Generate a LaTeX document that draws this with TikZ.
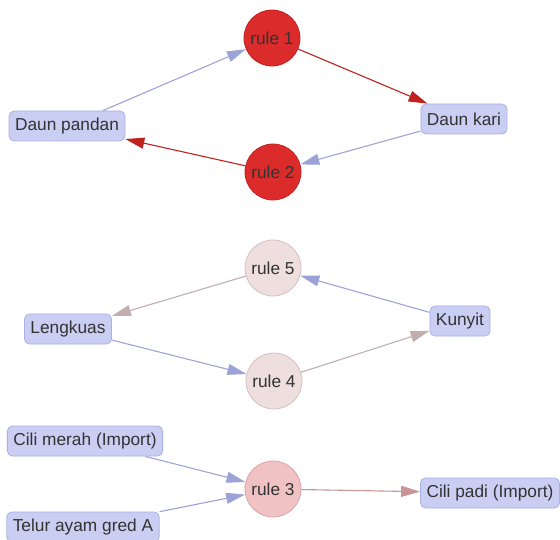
\documentclass[tikz,border=0pt]{standalone}
\usepackage{fontspec}
\setmainfont{Liberation Sans}
\usetikzlibrary{arrows.meta}
\definecolor{boxfill}{HTML}{C9CEF2}
\definecolor{boxline}{HTML}{A9B1E2}
\definecolor{txt}{HTML}{333333}
\definecolor{hotfill}{HTML}{DB2B2B}
\definecolor{hotline}{HTML}{C42222}
\definecolor{palefill}{HTML}{EEDEDE}
\definecolor{paleline}{HTML}{D4C0C0}
\definecolor{pinkfill}{HTML}{F0C2C4}
\definecolor{pinkline}{HTML}{D9A3A6}
\definecolor{inedge}{HTML}{9CA3D6}
\definecolor{hotedge}{HTML}{C0221E}
\definecolor{paleedge}{HTML}{C2AEAE}
\definecolor{pinkedge}{HTML}{C99497}
\tikzset{
  item/.style={draw=boxline, fill=boxfill, rounded corners=5pt, line width=0.8pt,
    minimum height=30pt, inner xsep=6pt, text=txt, font=\fontsize{17.3}{19}\selectfont},
  rulenode/.style={circle, draw=#1line, fill=#1fill, minimum size=56pt, inner sep=0pt,
    line width=0.8pt, text=txt, font=\fontsize{17.3}{19}\selectfont},
  link/.style={draw=#1, line width=1.1pt, -{Triangle[length=19pt,width=11pt,fill=#1]}},
}
\begin{document}
\begin{tikzpicture}[x=1pt,y=-1pt]
\useasboundingbox (0,0) rectangle (560,540);
% first cycle
\node[rulenode=hot] (r1) at (272,38) {rule 1};
\node[rulenode=hot] (r2) at (273,172) {rule 2};
\node[item] (pandan) at (67,126) {Daun pandan};
\node[item] (kari) at (464,119) {Daun kari};
\draw[link=inedge] (pandan) -- (r1);
\draw[link=hotedge] (r1) -- (kari);
\draw[link=inedge] (kari) -- (r2);
\draw[link=hotedge] (r2) -- (pandan);
% second cycle
\node[rulenode=pale] (r5) at (273,268) {rule 5};
\node[rulenode=pale] (r4) at (274,381) {rule 4};
\node[item] (lengkuas) at (68,329) {Lengkuas};
\node[item] (kunyit) at (460,321) {Kunyit};
\draw[link=inedge] (kunyit) -- (r5);
\draw[link=paleedge] (r5) -- (lengkuas);
\draw[link=inedge] (lengkuas) -- (r4);
\draw[link=paleedge] (r4) -- (kunyit);
% two inputs, one output
\node[rulenode=pink] (r3) at (273,489) {rule 3};
\node[item] (merah) at (85,441) {Cili merah (Import)};
\node[item] (telur) at (83,527) {Telur ayam gred A};
\node[item] (padi) at (490,493) {Cili padi (Import)};
\draw[link=inedge] (merah) -- (r3);
\draw[link=inedge] (telur) -- (r3);
\draw[link=pinkedge] (r3) -- (padi);
\end{tikzpicture}
\end{document}
